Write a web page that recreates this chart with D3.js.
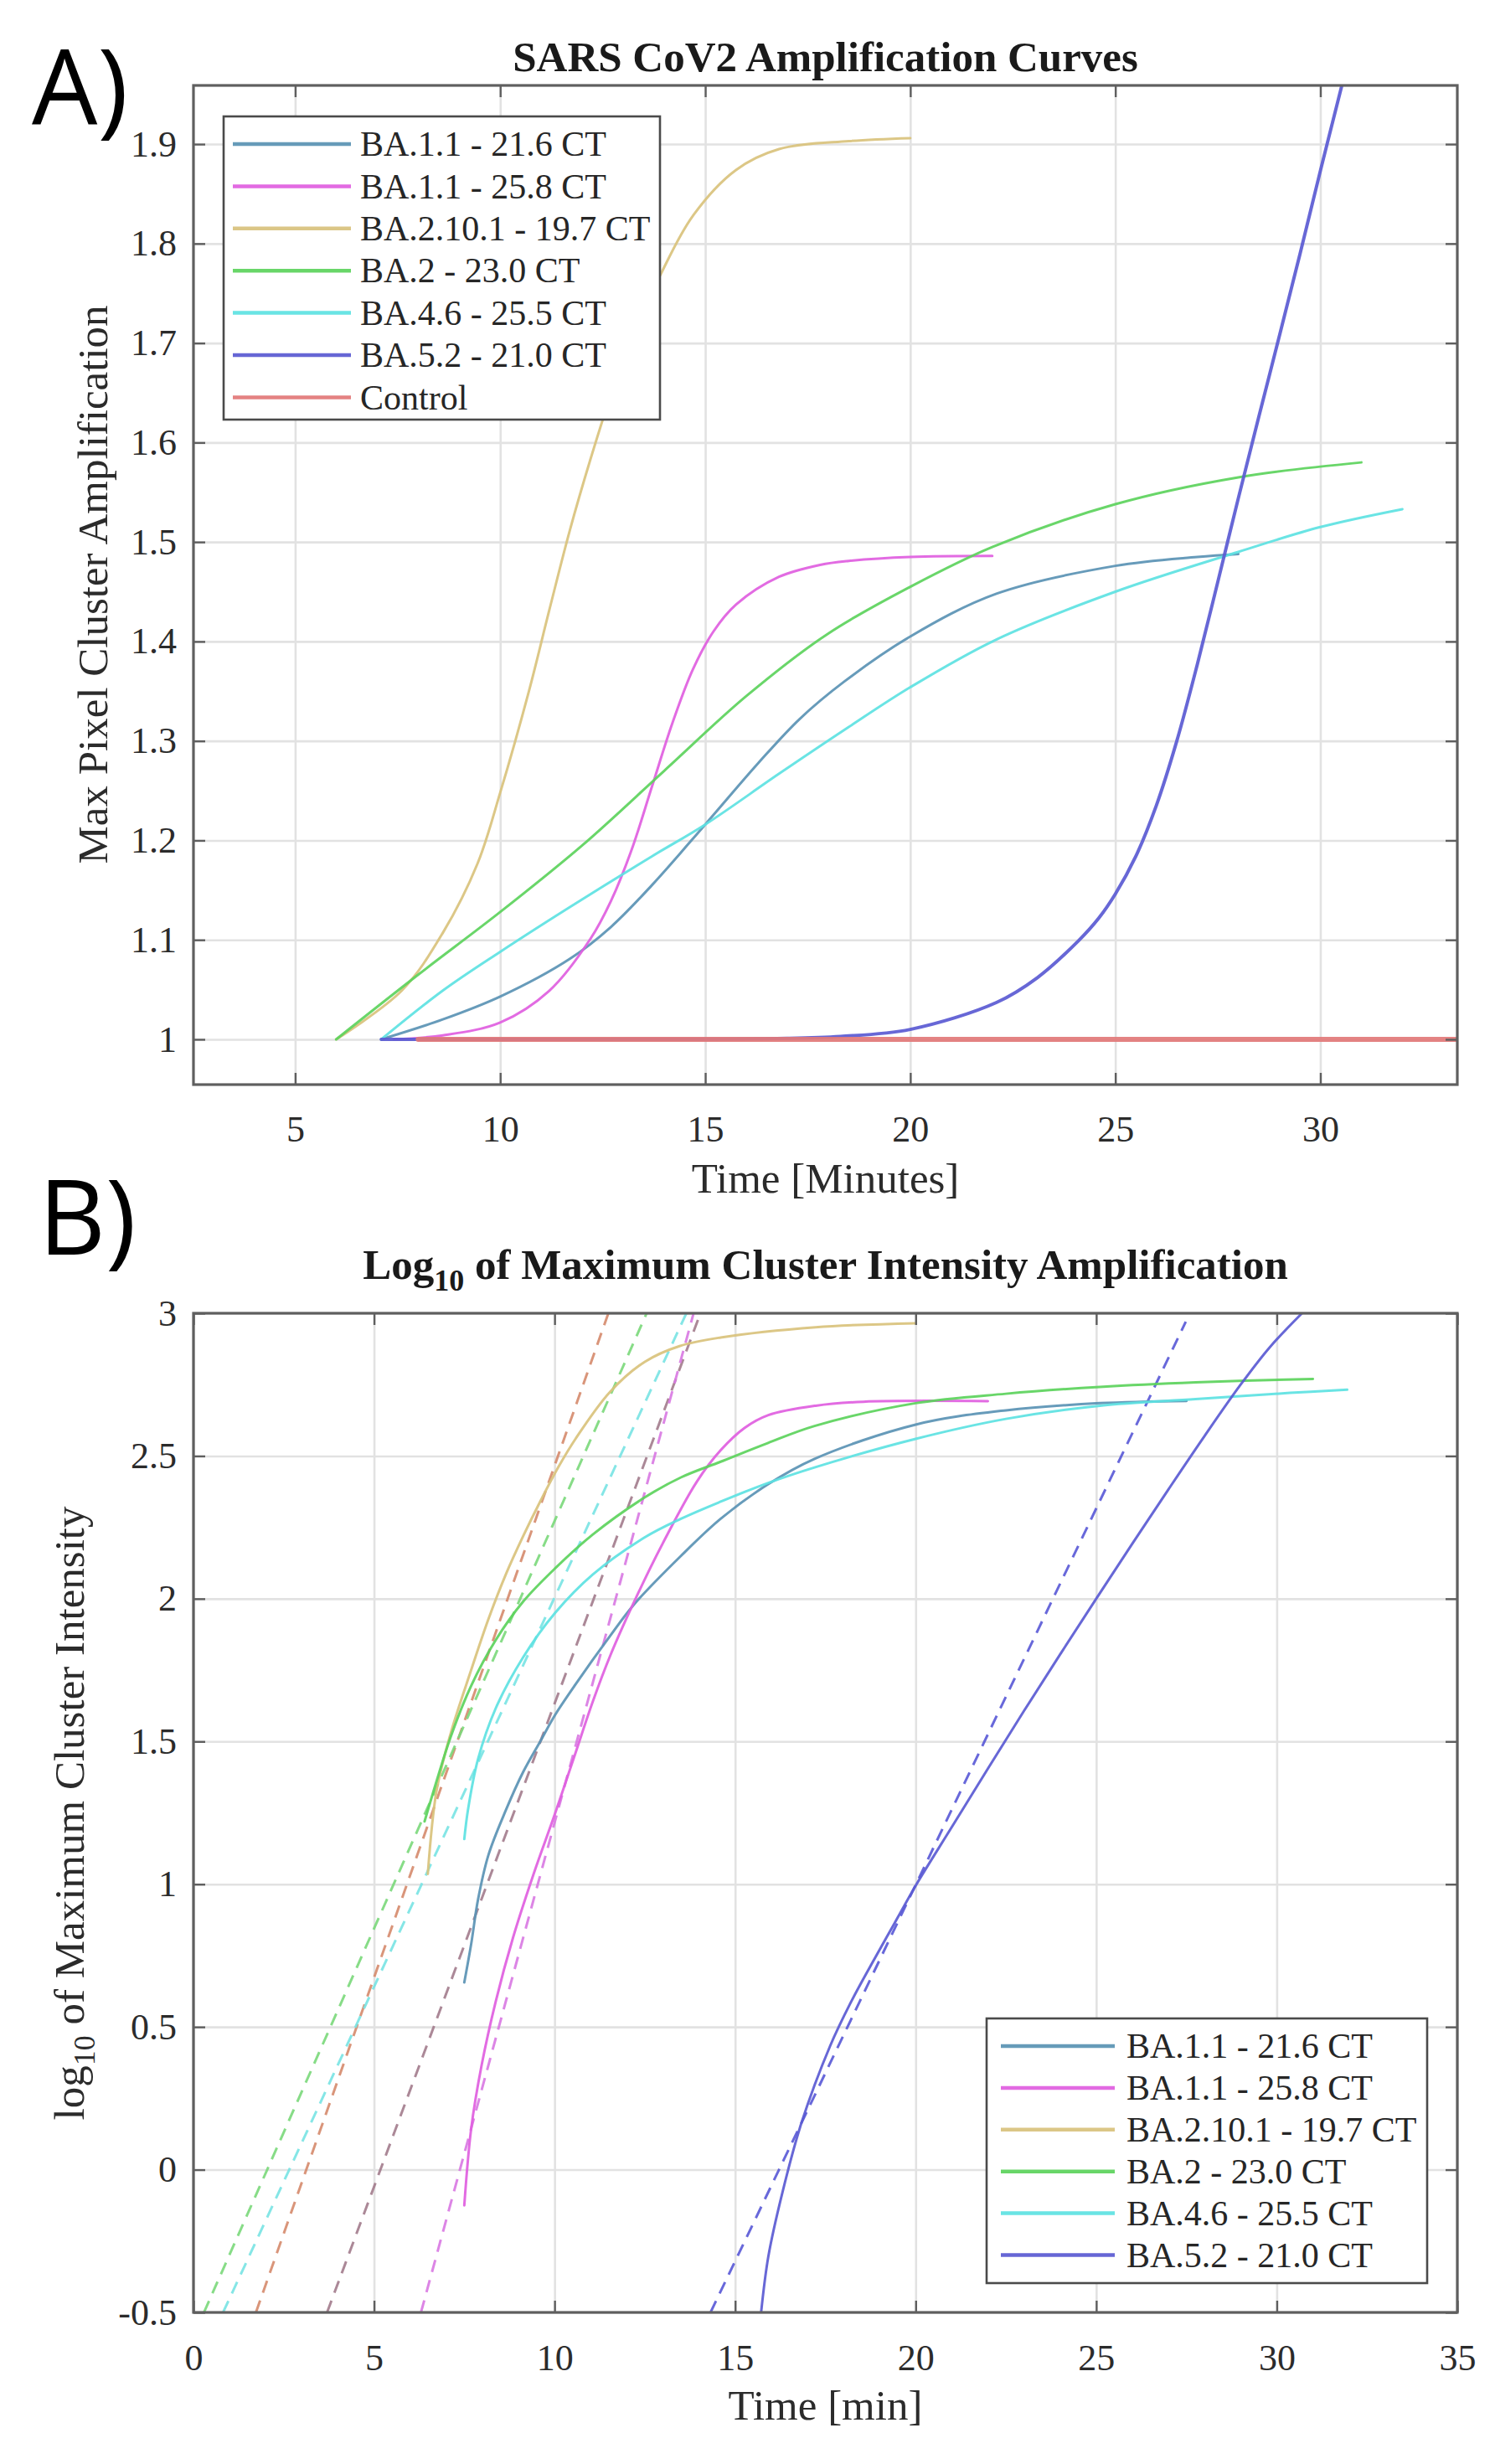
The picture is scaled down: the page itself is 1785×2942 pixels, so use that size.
<!DOCTYPE html>
<html>
<head>
<meta charset="utf-8">
<script src="https://cdn.jsdelivr.net/npm/d3@7/dist/d3.min.js"></script>
<style>
  html, body { margin: 0; padding: 0; background: #fff; }
  svg { display: block; }
</style>
</head>
<body>
<svg id="chart" width="1785" height="2942"></svg>
<script>
// ---------------- DATA ----------------
const seriesLabels = ["BA.1.1 - 21.6 CT", "BA.1.1 - 25.8 CT", "BA.2.10.1 - 19.7 CT",
                      "BA.2 - 23.0 CT", "BA.4.6 - 25.5 CT", "BA.5.2 - 21.0 CT", "Control"];

// Panel A: max pixel cluster amplification vs time [min]
const ampBA11_216 = [[7.1,1.0],[8.6,1.02],[10.0,1.043],[11.7,1.081],[12.7,1.113],[13.7,1.155],[15.0,1.216],[16.3,1.278],[17.3,1.322],[18.4,1.36],[20.0,1.405],[22.1,1.448],[25.0,1.476],[27.0,1.485],[28.0,1.488]];
const ampBA11_258 = [[7.4,1.0],[8.6,1.004],[10.0,1.017],[11.2,1.049],[12.2,1.101],[12.7,1.139],[13.2,1.19],[13.7,1.254],[14.2,1.318],[14.7,1.372],[15.2,1.41],[15.75,1.437],[16.8,1.465],[17.8,1.477],[18.5,1.481],[20.0,1.485],[22.0,1.486]];
const ampBA2101   = [[6.0,1.0],[7.6,1.049],[8.6,1.107],[9.45,1.177],[10.0,1.248],[10.7,1.35],[11.2,1.432],[11.7,1.512],[12.2,1.583],[12.7,1.648],[13.2,1.705],[13.9,1.768],[14.7,1.828],[15.75,1.874],[16.8,1.895],[18.5,1.903],[20.0,1.906]];
const ampBA2      = [[6.0,1.0],[8.0,1.065],[10.0,1.128],[12.0,1.195],[14.0,1.27],[16.0,1.345],[18.0,1.408],[20.0,1.455],[22.0,1.495],[25.0,1.538],[28.0,1.565],[31.0,1.58]];
const ampBA46     = [[7.1,1.0],[8.6,1.049],[10.0,1.088],[11.7,1.133],[13.7,1.184],[15.0,1.216],[16.8,1.267],[18.5,1.314],[20.0,1.354],[22.1,1.402],[25.0,1.45],[28.0,1.49],[30.0,1.515],[32.0,1.533]];
const ampBA52     = [[7.1,1.0],[12.0,1.0],[17.0,1.001],[18.3,1.003],[20.0,1.01],[22.1,1.037],[23.1,1.062],[24.1,1.099],[24.6,1.122],[25.0,1.146],[25.5,1.184],[26.0,1.235],[26.5,1.3],[27.0,1.377],[27.5,1.46],[28.0,1.544],[28.5,1.626],[29.0,1.707],[29.5,1.789],[30.0,1.873],[30.5,1.955],[30.7,1.988]];
const ampControl  = [[8.0,1.0],[12.0,1.0],[16.0,1.0],[20.0,1.0],[24.0,1.0],[28.0,1.0],[33.34,1.0]];

// Panel B: log10 of maximum cluster intensity vs time [min]
const logBA11_216 = [[7.5,0.656],[7.69,0.79],[7.88,0.946],[8.17,1.103],[8.65,1.259],[9.13,1.393],[9.62,1.504],[10.02,1.594],[10.58,1.70],[11.54,1.87],[12.2,1.98],[13.5,2.15],[14.6,2.28],[15.9,2.40],[17.2,2.49],[20.0,2.61],[22.5,2.66],[25.1,2.685],[27.5,2.693]];
const logBA11_258 = [[7.5,-0.125],[7.69,0.143],[7.98,0.366],[8.37,0.589],[8.85,0.813],[9.42,1.036],[10.02,1.25],[10.58,1.46],[11.06,1.64],[11.54,1.80],[12.31,2.018],[12.98,2.19],[13.94,2.41],[14.6,2.52],[15.26,2.598],[15.92,2.643],[17.23,2.676],[18.55,2.69],[22.0,2.692]];
const logBA2101   = [[6.49,1.036],[6.73,1.326],[7.12,1.527],[7.69,1.75],[8.17,1.929],[8.65,2.085],[9.13,2.219],[9.62,2.345],[10.1,2.46],[10.58,2.56],[11.54,2.725],[12.5,2.83],[13.46,2.885],[14.6,2.915],[17.23,2.951],[20.0,2.965]];
const logBA2      = [[6.4,1.22],[6.73,1.36],[7.12,1.515],[7.69,1.695],[8.37,1.855],[9.13,1.99],[10.02,2.107],[11.06,2.225],[12.5,2.355],[13.5,2.425],[14.6,2.48],[15.9,2.545],[17.2,2.605],[20.0,2.685],[22.5,2.718],[25.1,2.742],[27.75,2.758],[31.0,2.77]];
const logBA46     = [[7.5,1.158],[7.6,1.259],[7.88,1.438],[8.37,1.616],[9.13,1.795],[10.02,1.951],[11.06,2.085],[12.5,2.215],[13.5,2.28],[14.6,2.34],[15.9,2.405],[17.2,2.46],[20.0,2.56],[22.5,2.63],[25.1,2.676],[27.75,2.699],[30.37,2.721],[31.95,2.732]];
const logBA52     = [[15.72,-0.5],[15.92,-0.304],[16.31,-0.08],[16.84,0.165],[17.63,0.433],[18.2,0.585],[18.8,0.725],[19.4,0.86],[20.0,0.995],[21.0,1.2],[22.0,1.405],[23.0,1.607],[24.0,1.805],[25.0,2.0],[26.0,2.193],[27.0,2.383],[28.0,2.57],[29.0,2.75],[29.8,2.88],[30.7,3.0]];

// Panel B: linear fits (dashed)
const fitBA11_216 = [[3.70,-0.5],[14.04,3.0]];
const fitBA11_258 = [[6.30,-0.5],[13.85,3.0]];
const fitBA2101   = [[1.73,-0.5],[11.49,3.0]];
const fitBA2      = [[0.29,-0.5],[12.55,3.0]];
const fitBA46     = [[0.82,-0.5],[13.65,3.0]];
const fitBA52     = [[14.32,-0.5],[27.48,2.97]];

// Ticks
const xTicksA = [5, 10, 15, 20, 25, 30];
const xTickLabelsA = ["5", "10", "15", "20", "25", "30"];
const yTicksA = [1, 1.1, 1.2, 1.3, 1.4, 1.5, 1.6, 1.7, 1.8, 1.9];
const yTickLabelsA = ["1", "1.1", "1.2", "1.3", "1.4", "1.5", "1.6", "1.7", "1.8", "1.9"];
const xTicksB = [0, 5, 10, 15, 20, 25, 30, 35];
const xTickLabelsB = ["0", "5", "10", "15", "20", "25", "30", "35"];
const yTicksB = [-0.5, 0, 0.5, 1, 1.5, 2, 2.5, 3];
const yTickLabelsB = ["-0.5", "0", "0.5", "1", "1.5", "2", "2.5", "3"];

// ---------------- STYLE ----------------
const lineColors = ["#5a93b4", "#e05ee0", "#d9c27c", "#5cd35c", "#5de2e2", "#5a5ad2", "#e27878"];
const fitColors  = ["#a27b8c", "#d878e2", "#d58a6c", "#7ad87a", "#78e3e3", "#5858d6"];
const serif = '"Liberation Serif", "Times New Roman", "DejaVu Serif", serif';

const svg = d3.select("#chart");
svg.append("rect").attr("width", 1785).attr("height", 2942).attr("fill", "#fff");

function panel(cfg) {
  const g = svg.append("g");
  const x = d3.scaleLinear().domain(cfg.xDomain).range([cfg.left, cfg.right]);
  const y = d3.scaleLinear().domain(cfg.yDomain).range([cfg.bottom, cfg.top]);
  const w = cfg.right - cfg.left, h = cfg.bottom - cfg.top;

  // grid
  const gx = g.append("g").attr("transform", `translate(0,${cfg.bottom})`)
    .call(d3.axisBottom(x).tickValues(cfg.xTicks).tickSize(-h).tickFormat(""));
  const gy = g.append("g").attr("transform", `translate(${cfg.left},0)`)
    .call(d3.axisLeft(y).tickValues(cfg.yTicks).tickSize(-w).tickFormat(""));
  [gx, gy].forEach(a => {
    a.select(".domain").remove();
    a.selectAll("line").attr("stroke", "#e2e2e2").attr("stroke-width", 2.6);
  });

  // clip
  const cid = "clip" + cfg.id;
  svg.append("defs").append("clipPath").attr("id", cid)
    .append("rect").attr("x", cfg.left).attr("y", cfg.top).attr("width", w).attr("height", h);
  const plot = g.append("g").attr("clip-path", `url(#${cid})`);
  const line = d3.line().x(d => x(d[0])).y(d => y(d[1])).curve(d3.curveCatmullRom.alpha(0.5));

  (cfg.fits || []).forEach(f => {
    plot.append("path").datum(f.data).attr("d", line).attr("fill", "none")
      .attr("stroke", f.color).attr("stroke-width", 3).attr("stroke-dasharray", "15,10")
      .attr("opacity", 0.9);
  });
  cfg.series.forEach(s => {
    plot.append("path").datum(s.data).attr("d", line).attr("fill", "none")
      .attr("stroke", s.color).attr("stroke-width", s.width).attr("opacity", 0.92)
      .attr("stroke-linejoin", "round").attr("stroke-linecap", "round");
  });

  // frame
  g.append("rect").attr("x", cfg.left).attr("y", cfg.top).attr("width", w).attr("height", h)
    .attr("fill", "none").attr("stroke", "#5f5f5f").attr("stroke-width", 3.2);

  // axes with inward ticks
  const styleAxis = a => {
    a.select(".domain").remove();
    a.selectAll(".tick line").attr("stroke", "#5f5f5f").attr("stroke-width", 2.4);
    a.selectAll(".tick text").attr("font-family", serif).attr("font-size", 44).attr("fill", "#2b2b2b");
  };
  styleAxis(g.append("g").attr("transform", `translate(0,${cfg.bottom})`)
    .call(d3.axisBottom(x).tickValues(cfg.xTicks).tickSizeInner(-14).tickSizeOuter(0)
      .tickPadding(cfg.xPad).tickFormat((d, i) => cfg.xLabels[i])));
  styleAxis(g.append("g").attr("transform", `translate(0,${cfg.top})`)
    .call(d3.axisTop(x).tickValues(cfg.xTicks).tickSizeInner(-14).tickSizeOuter(0).tickFormat("")));
  styleAxis(g.append("g").attr("transform", `translate(${cfg.left},0)`)
    .call(d3.axisLeft(y).tickValues(cfg.yTicks).tickSizeInner(-14).tickSizeOuter(0)
      .tickPadding(20).tickFormat((d, i) => cfg.yLabels[i])));
  styleAxis(g.append("g").attr("transform", `translate(${cfg.right},0)`)
    .call(d3.axisRight(y).tickValues(cfg.yTicks).tickSizeInner(-14).tickSizeOuter(0).tickFormat("")));

  // legend
  const L = cfg.legend;
  const lg = g.append("g");
  lg.append("rect").attr("x", L.x).attr("y", L.y).attr("width", L.w).attr("height", L.h)
    .attr("fill", "#fff").attr("stroke", "#4a4a4a").attr("stroke-width", 2.6);
  cfg.series.forEach((s, i) => {
    const yy = L.firstY + i * L.step;
    lg.append("line").attr("x1", L.lineX1).attr("x2", L.lineX2).attr("y1", yy).attr("y2", yy)
      .attr("stroke", s.color).attr("stroke-width", 4.5).attr("opacity", 0.92);
    lg.append("text").attr("x", L.textX).attr("y", yy).attr("dy", "0.34em")
      .attr("font-family", serif).attr("font-size", 42).attr("fill", "#262626").text(s.label);
  });
  return {x, y, g};
}

// ---------------- PANEL A ----------------
const seriesA = [ampBA11_216, ampBA11_258, ampBA2101, ampBA2, ampBA46, ampBA52, ampControl]
  .map((d, i) => ({data: d, label: seriesLabels[i], color: lineColors[i], width: i === 6 ? 6 : (i === 5 ? 4 : 3)}));
panel({
  id: "A", left: 231, right: 1740, top: 102, bottom: 1295,
  xDomain: [2.52, 33.34], yDomain: [0.9545, 1.959],
  xTicks: xTicksA, xLabels: xTickLabelsA, yTicks: yTicksA, yLabels: yTickLabelsA, xPad: 37,
  series: seriesA,
  legend: {x: 267, y: 139, w: 521, h: 362, firstY: 172, step: 50.4, lineX1: 278, lineX2: 419, textX: 430}
});

// ---------------- PANEL B ----------------
const seriesB = [logBA11_216, logBA11_258, logBA2101, logBA2, logBA46, logBA52]
  .map((d, i) => ({data: d, label: seriesLabels[i], color: lineColors[i], width: 3}));
const fitsB = [fitBA11_216, fitBA11_258, fitBA2101, fitBA2, fitBA46, fitBA52]
  .map((d, i) => ({data: d, color: fitColors[i]}));
panel({
  id: "B", left: 231, right: 1740, top: 1568, bottom: 2761,
  xDomain: [0, 35], yDomain: [-0.5, 3],
  xTicks: xTicksB, xLabels: xTickLabelsB, yTicks: yTicksB, yLabels: yTickLabelsB, xPad: 38,
  series: seriesB, fits: fitsB,
  legend: {x: 1178, y: 2410, w: 526, h: 316, firstY: 2443, step: 49.9, lineX1: 1195, lineX2: 1331, textX: 1345}
});

// ---------------- TEXTS ----------------
const txt = svg.append("g").attr("font-family", serif).attr("fill", "#1a1a1a");
txt.append("text").attr("x", 985.5).attr("y", 85).attr("text-anchor", "middle")
  .attr("font-weight", "bold").attr("font-size", 51).text("SARS CoV2 Amplification Curves");
const tB = txt.append("text").attr("x", 985.5).attr("y", 1527).attr("text-anchor", "middle")
  .attr("font-weight", "bold").attr("font-size", 51);
tB.append("tspan").text("Log");
tB.append("tspan").attr("font-size", 36).attr("dy", 14).text("10");
tB.append("tspan").attr("dy", -14).text(" of Maximum Cluster Intensity Amplification");

txt.append("text").attr("x", 985.5).attr("y", 1424).attr("text-anchor", "middle")
  .attr("font-size", 51).attr("fill", "#2b2b2b").text("Time [Minutes]");
txt.append("text").attr("x", 985.5).attr("y", 2889).attr("text-anchor", "middle")
  .attr("font-size", 51).attr("fill", "#2b2b2b").text("Time [min]");

txt.append("text").attr("transform", "translate(128,698) rotate(-90)").attr("text-anchor", "middle")
  .attr("font-size", 51).attr("fill", "#2b2b2b").text("Max Pixel Cluster Amplification");
const yB = txt.append("text").attr("transform", "translate(100,2165) rotate(-90)").attr("text-anchor", "middle")
  .attr("font-size", 51).attr("fill", "#2b2b2b");
yB.append("tspan").text("log");
yB.append("tspan").attr("font-size", 36).attr("dy", 13).text("10");
yB.append("tspan").attr("dy", -13).text(" of Maximum Cluster Intensity");

// panel letters
const sans = '"Open Sans", "Noto Sans", Lato, sans-serif';
svg.append("text").attr("x", 38).attr("y", 148).attr("font-family", sans).attr("font-size", 124)
  .attr("fill", "#000").text("A)");
svg.append("text").attr("x", 46).attr("y", 1498).attr("font-family", sans).attr("font-size", 124)
  .attr("fill", "#000").text("B)");
</script>
</body>
</html>
